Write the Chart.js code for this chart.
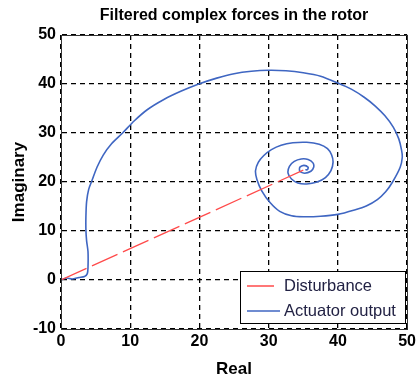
<!DOCTYPE html>
<html><head><meta charset="utf-8">
<script src="https://cdn.jsdelivr.net/npm/chart.js@4/dist/chart.umd.min.js"></script>
<style>html,body{margin:0;padding:0;background:#fff}#w{width:419px;height:378px}</style>
</head><body><div id="w"><canvas id="c" width="419" height="378"></canvas></div>
<script>
const titleText = 'Filtered complex forces in the rotor';
const xTitle = 'Real';
const yTitle = 'Imaginary';
const seriesNames = ['Disturbance', 'Actuator output'];
const xRange = [0, 50];
const yRange = [-10, 50];
const tickStep = 10;

const disturbanceReal = [0, 35.3];
const disturbanceImag = [0, 22.6];

const actuatorReal = [0, 0.8, 1.6, 2.6, 3.4, 3.8, 3.9, 3.9, 3.7, 3.6, 3.6, 3.7, 4.0, 4.5, 5.2, 6.1, 7.3, 8.9,
  10.6, 12.5, 14.8, 17.3, 19.9, 22.5, 25, 27.5, 30, 32.5, 35, 37.5, 40, 42, 43.8, 45.4, 46.8, 48, 48.8, 49.2, 49.3,
  49.0, 47.9, 46.9, 45.7, 44.1, 42.4, 40, 37.5, 35, 33.3, 31.6, 30.2, 29, 28.3, 28.1, 28.5, 29.3, 30.4, 31.8, 33.5,
  35.5, 37.3, 38.5, 39.1, 39.3, 39.0, 38.2, 37.0, 35.5, 34.2, 33.3, 32.8, 33.0, 33.7, 34.7, 35.7, 36.4, 36.5, 36.1,
  35.2, 34.5, 34.5, 35.1, 35.7, 35.6, 35.3];
const actuatorImag = [0, 0.4, 0.2, 0.5, 0.7, 1.3, 2.5, 5.8, 8, 10.2, 13, 16, 18.5, 20.4, 23, 25.5, 27.8, 30,
  32.5, 34.8, 36.8, 38.5, 40, 41.2, 42.1, 42.6, 42.8, 42.7, 42.3, 41.6, 40.2, 38.9, 37.3, 35.5, 33.5, 31.2, 28.8, 26.5, 25,
  23, 20, 18, 16.4, 15.1, 14.3, 13.4, 13.0, 12.9, 13.1, 14, 15.8, 18.2, 20.5, 22.3, 24, 25.4, 26.6, 27.5, 28.0,
  28.1, 27.7, 26.8, 25.5, 24, 22.3, 20.9, 20.0, 19.6, 19.8, 20.6, 21.8, 23.2, 24.2, 24.7, 24.6, 23.9, 23.0, 22.2,
  21.8, 22.2, 23.0, 23.4, 23.0, 22.5, 22.5];

const FONT = '"Liberation Sans", Arial, sans-serif';
const pts = (xs, ys) => xs.map((x, i) => ({x: x, y: ys[i]}));

const boxPlugin = {
  id: 'box',
  afterDraw(chart) {
    const ctx = chart.ctx, a = chart.chartArea;
    ctx.save();
    ctx.fillStyle = '#000';
    ctx.font = 'bold 16px ' + FONT;
    ctx.textAlign = 'center';
    ctx.textBaseline = 'middle';
    ctx.fillText(titleText, (a.left + a.right) / 2, 16);
    ctx.strokeStyle = '#333';
    ctx.lineWidth = 1;
    ctx.setLineDash([]);
    ctx.strokeRect(Math.round(a.left) + 0.5, Math.round(a.top) + 0.5, Math.round(a.right - a.left), Math.round(a.bottom - a.top));
    const bx = 240.5, by = 271.5, bw = 165, bh = 52;
    ctx.fillStyle = '#fff';
    ctx.fillRect(bx, by, bw, bh);
    ctx.strokeStyle = '#000';
    ctx.strokeRect(bx, by, bw, bh);
    ctx.font = '16.5px ' + FONT;
    ctx.textAlign = 'left';
    chart.data.datasets.forEach((ds, i) => {
      const yy = 286 + i * 25;
      ctx.strokeStyle = ds.borderColor;
      ctx.lineWidth = 1.5;
      ctx.beginPath();
      ctx.moveTo(247, yy);
      ctx.lineTo(i === 0 ? 274 : 280, yy);
      ctx.stroke();
      ctx.fillStyle = '#222244';
      ctx.fillText(ds.label, 284, yy);
    });
    ctx.restore();
  }
};

const gridOpts = {color: '#000', lineWidth: 1.3, drawTicks: false, borderDash: [5, 4]};
const borderOpts = {display: true, color: '#333', dash: [5, 4]};

new Chart(document.getElementById('c'), {
  type: 'scatter',
  data: {
    datasets: [
      {label: seriesNames[0], data: pts(disturbanceReal, disturbanceImag), showLine: true, borderColor: '#ff4a4a',
       borderWidth: 1.3, borderDash: [28, 6], pointRadius: 0, fill: false},
      {label: seriesNames[1], data: pts(actuatorReal, actuatorImag), showLine: true, borderColor: '#3f66c2',
       borderWidth: 1.6, pointRadius: 0, tension: 0.25, fill: false}
    ]
  },
  options: {
    responsive: false,
    animation: false,
    devicePixelRatio: 1,
    layout: {padding: {left: 0, right: 9, top: 35, bottom: 0}},
    plugins: {
      legend: {display: false},
      tooltip: {enabled: false},
      title: {display: false}
    },
    scales: {
      x: {
        type: 'linear', min: xRange[0], max: xRange[1],
        afterFit(s) { s.height = 49; },
        ticks: {stepSize: tickStep, color: '#000', padding: 3, maxRotation: 0,
          font: {family: FONT, size: 16, weight: 'bold'}},
        grid: gridOpts,
        border: borderOpts,
        title: {display: true, text: xTitle, color: '#000', padding: {top: 0, bottom: 0},
          font: {family: FONT, size: 17, weight: 'bold', lineHeight: 1}}
      },
      y: {
        type: 'linear', min: yRange[0], max: yRange[1],
        afterFit(s) { s.width = 61; },
        ticks: {stepSize: tickStep, color: '#000', padding: 5,
          font: {family: FONT, size: 16, weight: 'bold'}},
        grid: gridOpts,
        border: borderOpts,
        title: {display: true, text: yTitle, color: '#000', padding: {top: 9, bottom: 0},
          font: {family: FONT, size: 17, weight: 'bold', lineHeight: 1.2}}
      }
    }
  },
  plugins: [boxPlugin]
});
</script>
</body></html>
